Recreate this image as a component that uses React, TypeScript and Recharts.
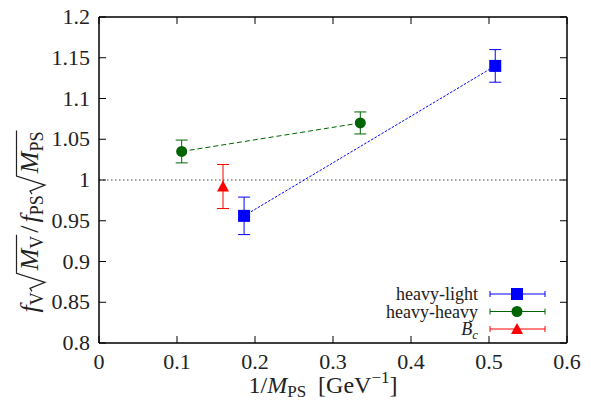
import React, { useLayoutEffect, useRef, useState } from 'react';
import { ScatterChart, Scatter, XAxis, YAxis, ErrorBar, ReferenceLine } from 'recharts';

const FONT = '"Liberation Serif", "DejaVu Serif", serif';

// axis ticks
const xTicks = [0, 0.1, 0.2, 0.3, 0.4, 0.5, 0.6];
const yTicks = [0.8, 0.85, 0.9, 0.95, 1, 1.05, 1.1, 1.15, 1.2];

// heavy-light
const hlX = [0.186, 0.508];
const hlY = [0.956, 1.14];
const hlErr = [0.023, 0.02];

// heavy-heavy
const hhX = [0.106, 0.335];
const hhY = [1.035, 1.07];
const hhErr = [0.014, 0.0135];

// B_c
const bcX = [0.159];
const bcY = [0.992];
const bcErr = [0.027];

const BLUE = '#0000ff';
const GREEN = '#006400';
const RED = '#ff0000';
const INK = '#222';

const W = 591;
const H = 402;
const M = { top: 17, right: 24, bottom: 0, left: 0 };
const Y_AXIS_W = 99;
const X_AXIS_H = 59;
const PLOT_W = W - M.left - M.right - Y_AXIS_W;
const PLOT_H = H - M.top - M.bottom - X_AXIS_H;

const toPoints = (xs: number[], ys: number[], errs: number[]) =>
  xs.map((x, i) => ({ x, y: ys[i], err: errs[i] }));

const heavyLight = toPoints(hlX, hlY, hlErr);
const heavyHeavy = toPoints(hhX, hhY, hhErr);
const bc = toPoints(bcX, bcY, bcErr);

const fmt = (v: number) => String(Number(v.toFixed(2)));

const TICK = 7;

// inward ticks, mirrored on the top edge
const BottomTick = ({ x, y, payload }: any) => (
  <g>
    <line x1={x} x2={x} y1={y} y2={y - TICK} stroke="#000" />
    <line x1={x} x2={x} y1={y - PLOT_H} y2={y - PLOT_H + TICK} stroke="#000" />
    <text x={x} y={y + 26} textAnchor="middle" fontSize={22} fontFamily={FONT} fill={INK}>
      {fmt(payload.value)}
    </text>
  </g>
);

// inward ticks, mirrored on the right edge
const LeftTick = ({ x, y, payload }: any) => (
  <g>
    <line x1={x} x2={x + TICK} y1={y} y2={y} stroke="#000" />
    <line x1={x + PLOT_W} x2={x + PLOT_W - TICK} y1={y} y2={y} stroke="#000" />
    <text x={x - 9} y={y + 7} textAnchor="end" fontSize={22} fontFamily={FONT} fill={INK}>
      {fmt(payload.value)}
    </text>
  </g>
);

const Square = ({ cx, cy }: any) => <rect x={cx - 6} y={cy - 6} width={12} height={12} fill={BLUE} />;
const Dot = ({ cx, cy }: any) => <circle cx={cx} cy={cy} r={5.5} fill={GREEN} />;
const Tri = ({ cx, cy }: any) => (
  <path d={`M${cx - 6},${cy + 5} L${cx + 6},${cy + 5} L${cx},${cy - 6} Z`} fill={RED} />
);

const XLabel = () => (
  <text x={323} y={393} textAnchor="middle" fontSize={24} fontFamily={FONT} fill={INK}>
    <tspan>1/</tspan>
    <tspan fontStyle="italic">M</tspan>
    <tspan fontSize={17} dy={4}>PS</tspan>
    <tspan dy={-4} dx={6}> [GeV</tspan>
    <tspan fontSize={17} dy={-10}>−1</tspan>
    <tspan dy={10}>]</tspan>
  </text>
);

// rotated y label, the radicals are drawn from the measured size of what they cover
const YLabel = () => {
  const a = useRef<SVGTSpanElement>(null);
  const b = useRef<SVGTSpanElement>(null);
  const [spans, setSpans] = useState<number[][]>([]);
  useLayoutEffect(() => {
    const out: number[][] = [];
    [a, b].forEach((r) => {
      if (r.current) {
        const bb = r.current.getBBox();
        out.push([bb.x, bb.x + bb.width]);
      }
    });
    setSpans(out);
  }, []);
  const sub = 18;
  return (
    <g transform="translate(38,222) rotate(-90)">
      <text x={0} y={0} textAnchor="middle" fontSize={26} fontFamily={FONT} fill={INK}>
        <tspan fontStyle="italic">f</tspan>
        <tspan fontSize={sub} dy={5}>V</tspan>
        <tspan ref={a} dy={-5} dx={22}>
          <tspan fontStyle="italic">M</tspan>
          <tspan fontSize={sub} dy={5}>V</tspan>
        </tspan>
        <tspan dy={-5} dx={3}>/</tspan>
        <tspan fontStyle="italic" dx={3}>f</tspan>
        <tspan fontSize={sub} dy={5}>PS</tspan>
        <tspan ref={b} dy={-5} dx={22}>
          <tspan fontStyle="italic">M</tspan>
          <tspan fontSize={sub} dy={5}>PS</tspan>
        </tspan>
      </text>
      {spans.map(([x0, x1], i) => (
        <path
          key={i}
          d={`M${x0 - 20},-6 L${x0 - 17},-8 L${x0 - 11},7 L${x0 - 2},-21.5 L${x1 + 1},-21.5`}
          fill="none"
          stroke={INK}
          strokeWidth={1.2}
        />
      ))}
    </g>
  );
};

const legendRows = [
  { name: 'heavy-light', color: BLUE, kind: 'square' },
  { name: 'heavy-heavy', color: GREEN, kind: 'circle' },
  { name: 'Bc', color: RED, kind: 'tri' },
];

const LegendBox = () => (
  <svg width={180} height={64} style={{ display: 'block' }}>
    {legendRows.map((r, i) => {
      const y = 11 + i * 17.5;
      const mx = 137;
      return (
        <g key={r.name}>
          {r.kind === 'tri' ? (
            <text x={98} y={y + 6} textAnchor="end" fontSize={18} fontFamily={FONT} fill={INK}>
              <tspan fontStyle="italic">B</tspan>
              <tspan fontSize={13} fontStyle="italic" dy={4}>c</tspan>
            </text>
          ) : (
            <text x={98} y={y + 6} textAnchor="end" fontSize={18} fontFamily={FONT} fill={INK}>
              {r.name}
            </text>
          )}
          <line x1={110} x2={165} y1={y} y2={y} stroke={r.color} />
          <line x1={110} x2={110} y1={y - 3} y2={y + 3} stroke={r.color} />
          <line x1={165} x2={165} y1={y - 3} y2={y + 3} stroke={r.color} />
          {r.kind === 'square' && <rect x={mx - 6} y={y - 6} width={12} height={12} fill={r.color} />}
          {r.kind === 'circle' && <circle cx={mx} cy={y} r={5.5} fill={r.color} />}
          {r.kind === 'tri' && (
            <path d={`M${mx - 6},${y + 5} L${mx + 6},${y + 5} L${mx},${y - 6} Z`} fill={r.color} />
          )}
        </g>
      );
    })}
  </svg>
);

export default function App() {
  return (
    <div style={{ position: 'absolute', left: 0, top: 0, width: W, height: H, background: '#fff' }}>
      <ScatterChart width={W} height={H} margin={M}>
        <XAxis
          type="number"
          dataKey="x"
          domain={[0, 0.6]}
          ticks={xTicks}
          height={X_AXIS_H}
          tickSize={0}
          tickMargin={0}
          tickLine={false}
          tick={<BottomTick />}
          axisLine={{ stroke: '#000', strokeWidth: 1.5 }}
          allowDataOverflow
          label={{ content: <XLabel /> }}
        />
        <YAxis
          type="number"
          dataKey="y"
          domain={[0.8, 1.2]}
          ticks={yTicks}
          width={Y_AXIS_W}
          tickSize={0}
          tickMargin={0}
          tickLine={false}
          tick={<LeftTick />}
          axisLine={{ stroke: '#000', strokeWidth: 1.5 }}
          allowDataOverflow
        />
        <ReferenceLine y={1.2} stroke="#000" strokeWidth={1.5} />
        <ReferenceLine x={0.6} stroke="#000" strokeWidth={1.5} />
        <ReferenceLine y={1} stroke="#444" strokeDasharray="1.5 2.5" />
        <Scatter
          data={heavyLight}
          shape={<Square />}
          line={{ stroke: BLUE, strokeWidth: 1, strokeDasharray: '2.5 1.5' }}
          isAnimationActive={false}
        >
          <ErrorBar dataKey="err" direction="y" width={6} stroke={BLUE} strokeWidth={1} />
        </Scatter>
        <Scatter
          data={heavyHeavy}
          shape={<Dot />}
          line={{ stroke: GREEN, strokeWidth: 1, strokeDasharray: '5 3' }}
          isAnimationActive={false}
        >
          <ErrorBar dataKey="err" direction="y" width={6} stroke={GREEN} strokeWidth={1} />
        </Scatter>
        <Scatter data={bc} shape={<Tri />} isAnimationActive={false}>
          <ErrorBar dataKey="err" direction="y" width={6} stroke={RED} strokeWidth={1} />
        </Scatter>
      </ScatterChart>
      <svg width={W} height={H} style={{ position: 'absolute', left: 0, top: 0, pointerEvents: 'none' }}>
        <YLabel />
      </svg>
      <div style={{ position: 'absolute', left: 380, top: 283 }}>
        <LegendBox />
      </div>
    </div>
  );
}
